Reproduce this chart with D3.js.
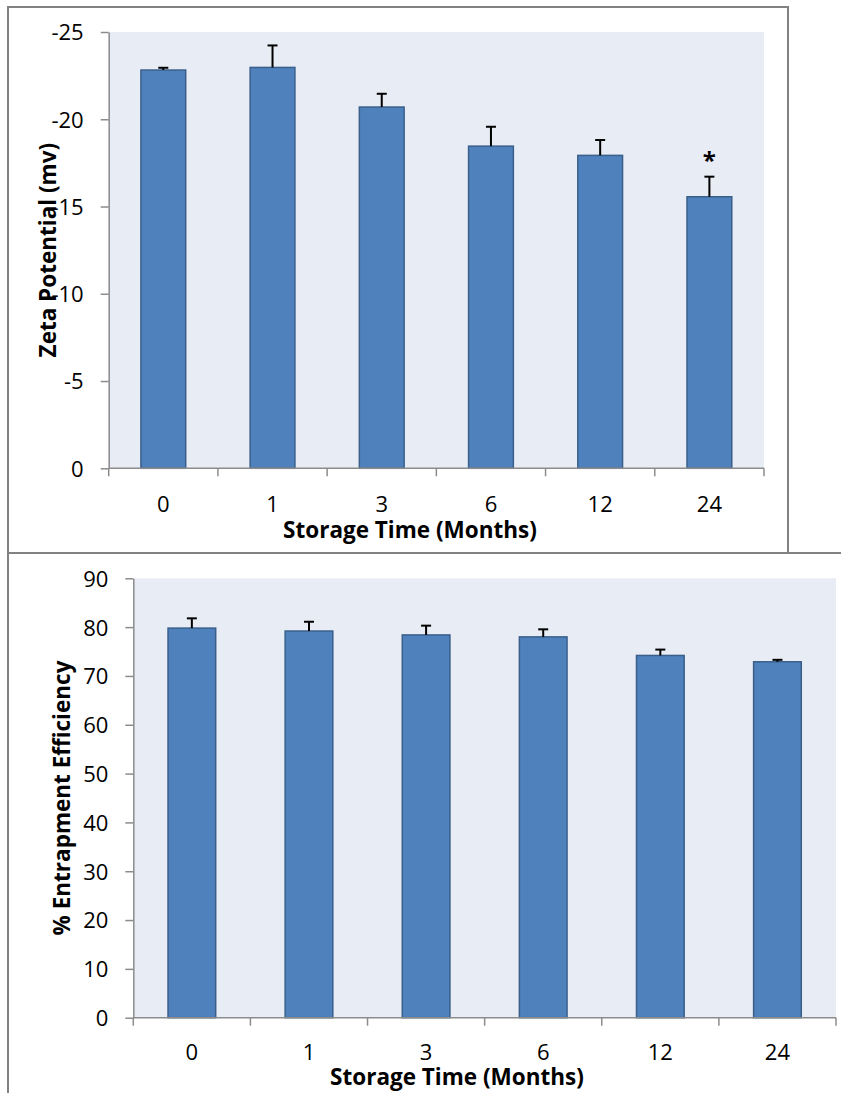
<!DOCTYPE html>
<html>
<head>
<meta charset="utf-8">
<script src="https://cdn.jsdelivr.net/npm/d3@7"></script>
<style>
  html, body { margin: 0; padding: 0; background: #fff; }
  svg { display: block; }
  text { font-family: "Open Sans", "Noto Sans", sans-serif; fill: #000; }
</style>
</head>
<body>
<script>
// ---------- data ----------
const categories = ["0", "1", "3", "6", "12", "24"];
const zetaValues = [-22.82, -22.97, -20.70, -18.46, -17.93, -15.56];
const zetaErrors = [0.13, 1.26, 0.76, 1.11, 0.88, 1.15];
const zetaMarks = ["", "", "", "", "", "*"];
const zetaTicks = [0, -5, -10, -15, -20, -25];
const eeValues = [79.8, 79.2, 78.4, 78.0, 74.2, 72.9];
const eeErrors = [2.0, 1.9, 1.9, 1.55, 1.2, 0.4];
const eeTicks = [0, 10, 20, 30, 40, 50, 60, 70, 80, 90];
const xTitle = "Storage Time (Months)";
const zetaTitle = "Zeta Potential (mv)";
const eeTitle = "% Entrapment Efficiency";

const W = 841, H = 1093;
const svg = d3.select("body").append("svg").attr("width", W).attr("height", H);

const BORDER = "#828282";
const AXIS = "#8c8c8c";
const PLOTBG = "#e8ecf4";
const BARFILL = "#4f81bd";
const BARSTROKE = "#3a5f8b";

// outer frames
svg.append("path")
  .attr("d", "M8,553 L8,7 L788,7 L788,553")
  .attr("fill", "none").attr("stroke", BORDER).attr("stroke-width", 2);
svg.append("path")
  .attr("d", "M8,1093 L8,553 L841,553")
  .attr("fill", "none").attr("stroke", BORDER).attr("stroke-width", 2);

function drawChart(cfg) {
  const g = svg.append("g");
  const x = d3.scaleBand().domain(categories)
    .range([cfg.left, cfg.right]).paddingInner(cfg.pad).paddingOuter(cfg.pad / 2);
  const y = d3.scaleLinear().domain(cfg.domain).range([cfg.bottom, cfg.top]);

  // plot background
  g.append("rect").attr("x", cfg.left).attr("y", cfg.top)
    .attr("width", cfg.right - cfg.left).attr("height", cfg.bottom - cfg.top)
    .attr("fill", PLOTBG);

  // bars
  g.selectAll("rect.bar").data(cfg.values).join("rect").attr("class", "bar")
    .attr("x", (d, i) => x(categories[i]))
    .attr("width", x.bandwidth())
    .attr("y", d => Math.min(y(d), y(0)))
    .attr("height", d => Math.abs(y(0) - y(d)))
    .attr("fill", BARFILL).attr("stroke", BARSTROKE).attr("stroke-width", 1.5);

  // error bars (upper only)
  const eb = g.selectAll("g.err").data(cfg.values).join("g").attr("class", "err");
  const cx = i => x(categories[i]) + x.bandwidth() / 2;
  const tipVal = (d, i) => d + cfg.sign * cfg.errors[i];
  eb.append("line")
    .attr("x1", (d, i) => cx(i)).attr("x2", (d, i) => cx(i))
    .attr("y1", d => y(d)).attr("y2", (d, i) => y(tipVal(d, i)))
    .attr("stroke", "#000").attr("stroke-width", 2);
  eb.append("line")
    .attr("x1", (d, i) => cx(i) - 5).attr("x2", (d, i) => cx(i) + 5)
    .attr("y1", (d, i) => y(tipVal(d, i))).attr("y2", (d, i) => y(tipVal(d, i)))
    .attr("stroke", "#000").attr("stroke-width", 2);

  // significance marks
  if (cfg.marks) {
    g.selectAll("text.mark").data(cfg.values).join("text").attr("class", "mark")
      .attr("x", (d, i) => cx(i))
      .attr("y", (d, i) => y(tipVal(d, i)) - 8)
      .attr("text-anchor", "middle")
      .style("font-size", "24px").style("font-weight", "bold")
      .text((d, i) => cfg.marks[i]);
  }

  // y axis
  const yAxis = d3.axisLeft(y).tickValues(cfg.ticks).tickSizeOuter(0).tickSizeInner(8)
    .tickPadding(cfg.yPad)
    .tickFormat(d => String(d).replace("\u2212", "-"));
  const ya = g.append("g").attr("transform", `translate(${cfg.left},0)`).call(yAxis);
  ya.select(".domain").attr("stroke", AXIS).attr("stroke-width", 1.5);
  ya.selectAll(".tick line").attr("stroke", AXIS).attr("stroke-width", 1.5);
  ya.selectAll(".tick text").attr("fill", "#000")
    .style("font-size", cfg.fs + "px").style("font-family", "'Open Sans', sans-serif")
    .attr("dy", "0.36em");

  // x axis: line + boundary ticks
  const step = x.step();
  const bounds = d3.range(categories.length + 1).map(i => cfg.left + i * step);
  g.append("line").attr("x1", cfg.left).attr("x2", cfg.right)
    .attr("y1", cfg.bottom).attr("y2", cfg.bottom)
    .attr("stroke", AXIS).attr("stroke-width", 1.5);
  g.selectAll("line.xt").data(bounds).join("line").attr("class", "xt")
    .attr("x1", d => d).attr("x2", d => d)
    .attr("y1", cfg.bottom).attr("y2", cfg.bottom + 8)
    .attr("stroke", AXIS).attr("stroke-width", 1.5);
  g.selectAll("text.xl").data(categories).join("text").attr("class", "xl")
    .attr("x", d => x(d) + x.bandwidth() / 2)
    .attr("y", cfg.xLabelY)
    .attr("text-anchor", "middle")
    .style("font-size", cfg.fs + "px")
    .text(d => d);

  // titles
  g.append("text").attr("x", cfg.xTitleX).attr("y", cfg.xTitleY)
    .attr("text-anchor", "middle")
    .style("font-size", cfg.tfs + "px").style("font-weight", "bold")
    .text(xTitle);
  g.append("text")
    .attr("transform", `translate(${cfg.yTitleX},${(cfg.top + cfg.bottom) / 2}) rotate(-90)`)
    .attr("text-anchor", "middle")
    .style("font-size", cfg.tfs + "px").style("font-weight", "bold")
    .text(cfg.yTitle);
}

drawChart({
  left: 108.7, right: 764, top: 32, bottom: 468.3,
  pad: 0.59, domain: [0, -25], sign: -1,
  values: zetaValues, errors: zetaErrors, marks: zetaMarks, ticks: zetaTicks,
  yPad: 17, fs: 22, tfs: 22.5,
  xLabelY: 511.5, xTitleX: 410, xTitleY: 538,
  yTitleX: 56, yTitle: zetaTitle
});

drawChart({
  left: 133.3, right: 836, top: 578.3, bottom: 1017.7,
  pad: 0.593, domain: [0, 90], sign: 1,
  values: eeValues, errors: eeErrors, marks: null, ticks: eeTicks,
  yPad: 17, fs: 22, tfs: 22.5,
  xLabelY: 1060, xTitleX: 457, xTitleY: 1085,
  yTitleX: 70, yTitle: eeTitle
});
</script>
</body>
</html>
